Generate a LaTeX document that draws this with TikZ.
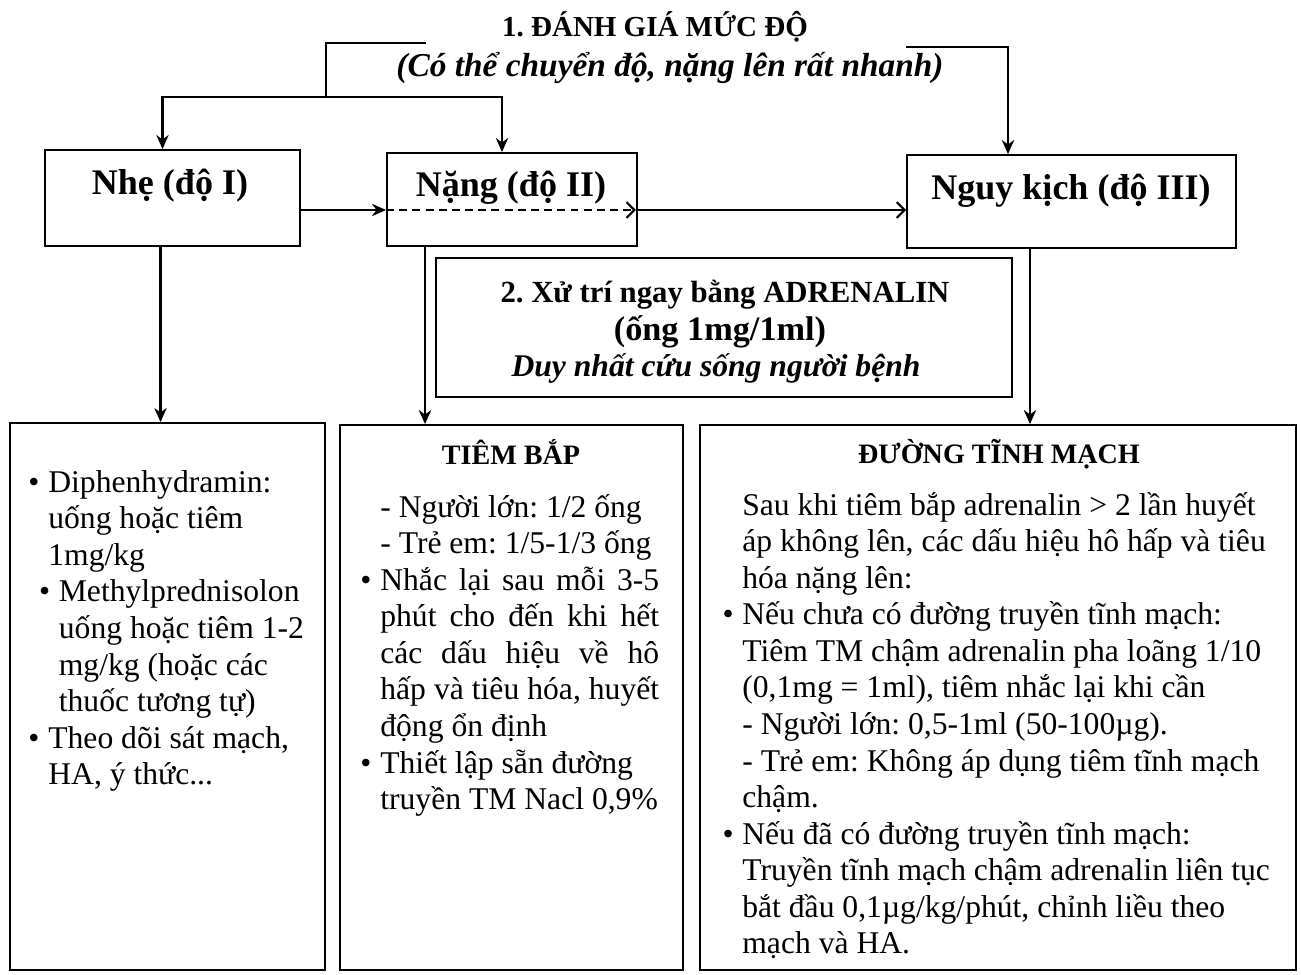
\documentclass[tikz,border=0pt]{standalone}
\usepackage{fontspec}
\setmainfont{Liberation Serif}
\usetikzlibrary{arrows.meta}
\frenchspacing
\newcommand{\bul}{\makebox[0pt][r]{\textbullet\hspace{5pt}}}
\newcommand{\jl}[1]{\makebox[158.7pt][s]{#1}}

\begin{document}
\begin{tikzpicture}[x=0.02cm, y=-0.02cm,
  frame/.style={draw, line width=1.1pt, inner sep=0pt},
  head/.style={font=\fontsize{20.5pt}{24pt}\selectfont\bfseries},
  sub/.style={font=\fontsize{16pt}{19pt}\selectfont\bfseries},
  mid/.style={font=\fontsize{17.5pt}{21pt}\selectfont\bfseries},
  body/.style={anchor=north west, align=left, inner sep=0pt, font=\fontsize{18pt}{20.8pt}\selectfont},
  link/.style={line width=1.2pt},
  arr/.style={link, -{Stealth[length=8pt,width=7pt]}},
  open/.style={link, -{Straight Barb[length=4.5pt,width=9pt]}}
]
\path[use as bounding box, fill=white] (0,0) rectangle (1301,974);

% title
\node[font=\fontsize{16.5pt}{19pt}\selectfont\bfseries] (t1) at (655,27) {1. ĐÁNH GIÁ MỨC ĐỘ};
\node[font=\fontsize{19pt}{22pt}\selectfont\bfseries\itshape] (t2) at (670,68) {(Có thể chuyển độ, nặng lên rất nhanh)};

% grades
\node[frame, minimum width=5.1cm, minimum height=1.92cm] (mild) at (172.5,198) {};
\node[head] (mildt) at (170,186) {Nhẹ (độ I)};
\node[frame, minimum width=5.0cm, minimum height=1.86cm] (sev) at (512,199.5) {};
\node[head] (sevt) at (511,188) {Nặng (độ II)};
\node[frame, minimum width=6.58cm, minimum height=1.86cm] (crit) at (1071.5,201.5) {};
\node[head] (critt) at (1071,191) {Nguy kịch (độ III)};

% adrenalin
\node[frame, minimum width=11.52cm, minimum height=2.78cm] (adr) at (724,327.5) {};
\node[mid] (adr1) at (725,295) {2. Xử trí ngay bằng ADRENALIN};
\node[mid, font=\fontsize{19.5pt}{21pt}\selectfont\bfseries] (adr2) at (720,332) {(ống 1mg/1ml)};
\node[mid, font=\fontsize{18pt}{21pt}\selectfont\bfseries\itshape] (adr3) at (716,368) {Duy nhất cứu sống người bệnh};

% treatment panels
\node[frame, minimum width=6.3cm, minimum height=10.94cm] (oral) at (167.5,696.5) {};
\node[frame, minimum width=6.86cm, minimum height=10.9cm] (im) at (511.5,697.5) {};
\node[frame, minimum width=11.92cm, minimum height=10.9cm] (iv) at (998,697.5) {};

\node[body] (oralt) at (48,470) {\bul Diphenhydramin:\\
uống hoặc tiêm\\
1mg/kg\\
\hspace*{6pt}\bul Methylprednisolon\\
\hspace*{6pt}uống hoặc tiêm 1-2\\
\hspace*{6pt}mg/kg (hoặc các\\
\hspace*{6pt}thuốc tương tự)\\
\bul Theo dõi sát mạch,\\
HA, ý thức...};

\node[sub] (imh) at (511,452) {TIÊM BẮP};
\node[body] (imt) at (380,494) {- Người lớn: 1/2 ống\\
- Trẻ em: 1/5-1/3 ống\\
\bul\jl{Nhắc lại sau mỗi 3-5}\\
\jl{phút cho đến khi hết}\\
\jl{các dấu hiệu về hô}\\
\jl{hấp và tiêu hóa, huyết}\\
động ổn định\\
\bul Thiết lập sẵn đường\\
truyền TM Nacl 0,9\%};

\node[sub] (ivh) at (999,454) {ĐƯỜNG TĨNH MẠCH};
\node[body] (ivt) at (742,492) {Sau khi tiêm bắp adrenalin > 2 lần huyết\\
áp không lên, các dấu hiệu hô hấp và tiêu\\
hóa nặng lên:\\
\bul Nếu chưa có đường truyền tĩnh mạch:\\
Tiêm TM chậm adrenalin pha loãng 1/10\\
(0,1mg = 1ml), tiêm nhắc lại khi cần\\
- Người lớn: 0,5-1ml (50-100µg).\\
- Trẻ em: Không áp dụng tiêm tĩnh mạch\\
chậm.\\
\bul Nếu đã có đường truyền tĩnh mạch:\\
Truyền tĩnh mạch chậm adrenalin liên tục\\
bắt đầu 0,1µg/kg/phút, chỉnh liều theo\\
mạch và HA.};

% connectors
\coordinate (tl) at (426,43);
\coordinate (fork) at (326,97);
\coordinate (tr) at (906,47);
\coordinate (lane) at (0,210);
\draw[link] (tl) -| (fork);
\draw[arr] (fork) -| ([xshift=-0.2cm]mild.north);
\draw[arr] (fork) -| ([xshift=-0.2cm]sev.north);
\draw[arr] (tr) -| ([xshift=-1.27cm]crit.north);
\draw[arr] (mild.east |- lane) -- (sev.west |- lane);
\draw[open, dash pattern=on 4.5pt off 3pt] (sev.west |- lane) -- ([xshift=-0.04cm]sev.east |- lane);
\draw[open] (sev.east |- lane) -- (crit.west |- lane);
\draw[arr] ([xshift=-0.24cm]mild.south) -- ([xshift=-0.24cm]mild.south |- oral.north);
\draw[arr] ([xshift=-1.74cm]sev.south) -- ([xshift=-1.74cm]sev.south |- im.north);
\draw[arr] ([xshift=-0.83cm]crit.south) -- ([xshift=-0.83cm]crit.south |- iv.north);
\end{tikzpicture}
\end{document}
